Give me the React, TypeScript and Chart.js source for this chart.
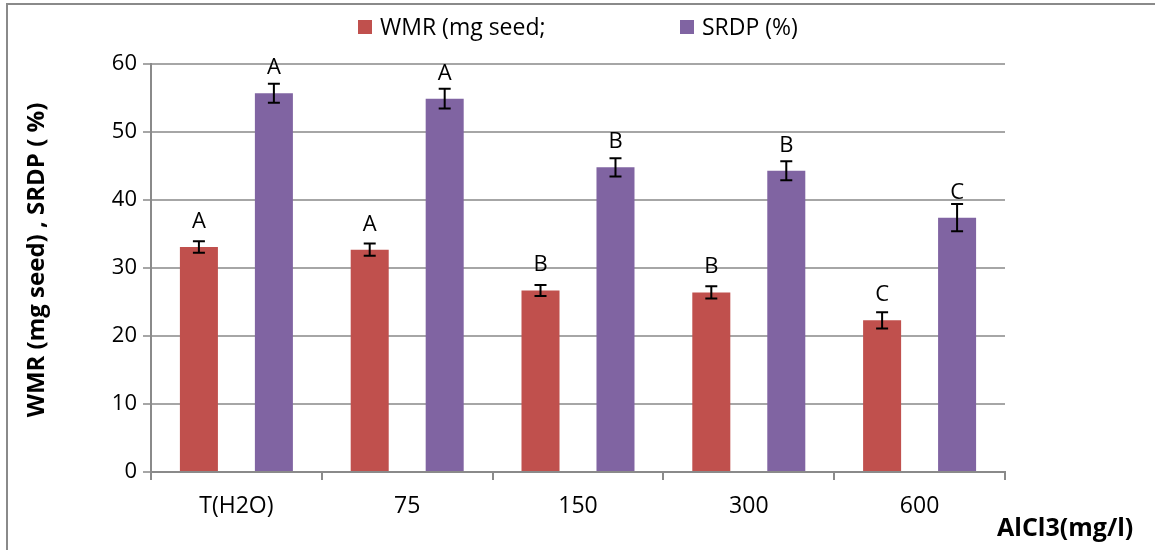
import React, { useEffect, useRef } from "react";
import { Chart, registerables } from "chart.js";

Chart.register(...registerables);

const categories = ["T(H2O)", "75", "150", "300", "600"];
const wmrValues = [33.1, 32.7, 26.7, 26.4, 22.3];
const wmrErrors = [0.85, 0.9, 0.8, 0.9, 1.2];
const wmrLetters = ["A", "A", "B", "B", "C"];
const srdpValues = [55.7, 54.9, 44.8, 44.3, 37.4];
const srdpErrors = [1.4, 1.45, 1.35, 1.4, 2.0];
const srdpLetters = ["A", "A", "B", "B", "C"];
const seriesNames = ["WMR (mg seed;", "SRDP (%)"];
const yTitle = "WMR (mg seed) , SRDP ( %)";
const xTitle = "AlCl3(mg/l)";

const RED = "#C0504D";
const PURPLE = "#8064A2";
const FONT = "'Open Sans', sans-serif";

const extrasPlugin = {
  id: "extras",
  beforeDraw(chart: any) {
    const ctx = chart.ctx;
    ctx.save();
    ctx.fillStyle = "#ffffff";
    ctx.fillRect(0, 0, chart.width, chart.height);
    ctx.strokeStyle = "#8a8a8a";
    ctx.lineWidth = 2;
    ctx.beginPath();
    ctx.moveTo(7, chart.height);
    ctx.lineTo(7, 4);
    ctx.lineTo(chart.width, 4);
    ctx.stroke();
    ctx.restore();
  },
  afterDatasetsDraw(chart: any) {
    const ctx = chart.ctx;
    const yScale = chart.scales.y;
    const errs = [wmrErrors, srdpErrors];
    const letters = [wmrLetters, srdpLetters];
    ctx.save();
    chart.data.datasets.forEach((ds: any, di: number) => {
      const meta = chart.getDatasetMeta(di);
      meta.data.forEach((bar: any, i: number) => {
        const v = ds.data[i];
        const e = errs[di][i];
        const x = bar.x;
        const yTop = yScale.getPixelForValue(v + e);
        const yBot = yScale.getPixelForValue(v - e);
        ctx.strokeStyle = "#000";
        ctx.lineWidth = 2;
        ctx.beginPath();
        ctx.moveTo(x, yTop);
        ctx.lineTo(x, yBot);
        ctx.moveTo(x - 6, yTop);
        ctx.lineTo(x + 6, yTop);
        ctx.moveTo(x - 6, yBot);
        ctx.lineTo(x + 6, yBot);
        ctx.stroke();
        ctx.fillStyle = "#000";
        ctx.font = `22px ${FONT}`;
        ctx.textAlign = "center";
        ctx.textBaseline = "alphabetic";
        ctx.fillText(letters[di][i], x, bar.y - 19);
      });
    });
    // legend
    const colors = [RED, PURPLE];
    const boxX = [358, 680];
    ctx.font = `23px ${FONT}`;
    ctx.textAlign = "left";
    ctx.textBaseline = "middle";
    seriesNames.forEach((name, i) => {
      ctx.fillStyle = colors[i];
      ctx.fillRect(boxX[i], 20, 14, 14);
      ctx.fillStyle = "#000";
      ctx.fillText(name, boxX[i] + 22, 28);
    });
    // y title
    const ca = chart.chartArea;
    ctx.save();
    ctx.translate(37, (ca.top + ca.bottom) / 2 - 8);
    ctx.rotate(-Math.PI / 2);
    ctx.font = `bold 24px ${FONT}`;
    ctx.textAlign = "center";
    ctx.textBaseline = "middle";
    ctx.fillText(yTitle, 0, 0);
    ctx.restore();
    // x title
    ctx.font = `bold 25px ${FONT}`;
    ctx.textAlign = "left";
    ctx.textBaseline = "middle";
    ctx.fillText(xTitle, 997, 529);
    ctx.restore();
  },
};

export default function App() {
  const ref = useRef<HTMLCanvasElement | null>(null);
  useEffect(() => {
    if (!ref.current) return;
    const chart = new Chart(ref.current, {
      type: "bar",
      data: {
        labels: categories,
        datasets: [
          {
            label: seriesNames[0],
            data: wmrValues,
            backgroundColor: RED,
            categoryPercentage: 0.878,
            barPercentage: 0.507,
          },
          {
            label: seriesNames[1],
            data: srdpValues,
            backgroundColor: PURPLE,
            categoryPercentage: 0.878,
            barPercentage: 0.507,
          },
        ],
      },
      options: {
        responsive: false,
        animation: false,
        layout: { padding: { left: 0, top: 64, right: 150, bottom: 0 } },
        plugins: {
          legend: { display: false },
          tooltip: { enabled: false },
          title: { display: false },
        },
        scales: {
          x: {
            afterFit(scale: any) {
              scale.height = 78;
            },
            grid: {
              drawOnChartArea: false,
              drawTicks: true,
              tickLength: 8,
              color: "#8a8a8a",
              lineWidth: 2,
            },
            border: { color: "#8a8a8a", width: 2 },
            ticks: {
              color: "#000",
              font: { family: FONT, size: 23 },
              padding: 13,
              maxRotation: 0,
            },
          },
          y: {
            min: 0,
            max: 60,
            afterFit(scale: any) {
              scale.width = 151;
            },
            grid: {
              color: "#a6a6a6",
              lineWidth: 2,
              tickLength: 8,
              drawTicks: true,
            },
            border: { color: "#8a8a8a", width: 2 },
            ticks: {
              stepSize: 10,
              color: "#000",
              font: { family: FONT, size: 22 },
              padding: 6,
            },
          },
        },
      },
      plugins: [extrasPlugin],
    });
    return () => chart.destroy();
  }, []);
  return (
    <div style={{ position: "fixed", left: 0, top: 0, width: 1155, height: 550, background: "#fff" }}>
      <canvas ref={ref} width={1155} height={550} />
    </div>
  );
}
